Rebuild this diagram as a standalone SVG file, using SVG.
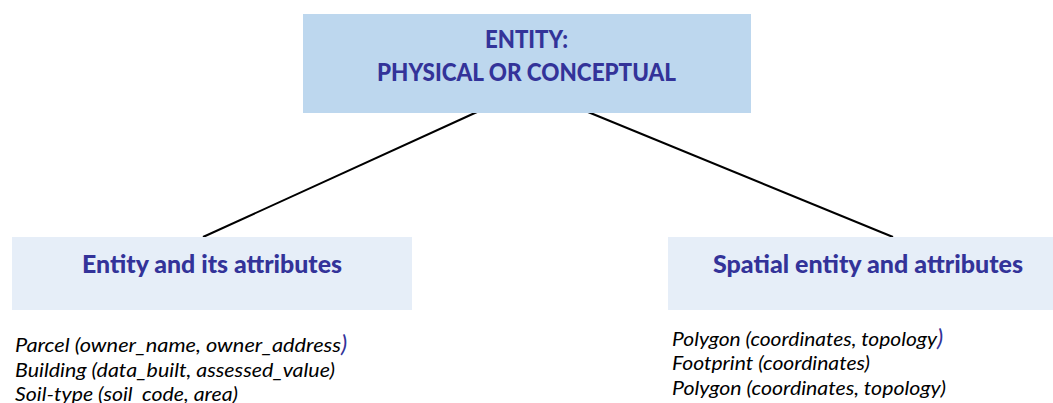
<svg xmlns="http://www.w3.org/2000/svg" width="1053" height="403" viewBox="0 0 1053 403">
  <style>
    .top { fill: #BDD7EE; }
    .sub { fill: #E6EEF8; }
    .head { font-family: Lato, "Open Sans", "Liberation Sans", sans-serif; font-weight: 900; fill: #333399; }
    .item { font-family: Lato, "Open Sans", "Liberation Sans", sans-serif; font-style: italic; font-size: 19px; fill: #000000; }
    .paren { font-family: Lato, "Open Sans", "Liberation Sans", sans-serif; font-style: italic; font-size: 24px; fill: #333399; }
    .link { stroke: #000000; stroke-width: 2; fill: none; }
  </style>
  <rect width="1053" height="403" fill="#FFFFFF"/>

  <g id="connectors">
    <line class="link" x1="477" y1="112" x2="203" y2="237"/>
    <line class="link" x1="588" y1="112" x2="893" y2="237"/>
  </g>

  <g id="entity">
    <rect class="top" x="303" y="14" width="448" height="99"/>
    <text class="head" x="485" y="48" font-size="24" textLength="83" lengthAdjust="spacingAndGlyphs">ENTITY:</text>
    <text class="head" x="377" y="81" font-size="24" textLength="299" lengthAdjust="spacingAndGlyphs">PHYSICAL OR CONCEPTUAL</text>
  </g>

  <g id="entity-attributes">
    <rect class="sub" x="12" y="237" width="400" height="73"/>
    <text class="head" x="82" y="273" font-size="24" textLength="260" lengthAdjust="spacingAndGlyphs">Entity and its attributes</text>
    <text class="item" x="15" y="352" textLength="326" lengthAdjust="spacingAndGlyphs">Parcel (owner_name,  owner_address</text>
    <text class="paren" x="341" y="352">)</text>
    <text class="item" x="15" y="377" textLength="320" lengthAdjust="spacingAndGlyphs">Building (data_built, assessed_value)</text>
    <text class="item" x="15" y="401" textLength="223" lengthAdjust="spacingAndGlyphs">Soil-type (soil_code, area)</text>
  </g>

  <g id="spatial-entity">
    <rect class="sub" x="668" y="237" width="385" height="73"/>
    <text class="head" x="713" y="273" font-size="24" textLength="310" lengthAdjust="spacingAndGlyphs">Spatial entity and attributes</text>
    <text class="item" x="672" y="346" textLength="265" lengthAdjust="spacingAndGlyphs">Polygon (coordinates, topology</text>
    <text class="paren" x="937" y="346">)</text>
    <text class="item" x="672" y="370" textLength="198" lengthAdjust="spacingAndGlyphs">Footprint (coordinates)</text>
    <text class="item" x="672" y="395" textLength="274" lengthAdjust="spacingAndGlyphs">Polygon (coordinates, topology)</text>
  </g>
</svg>
